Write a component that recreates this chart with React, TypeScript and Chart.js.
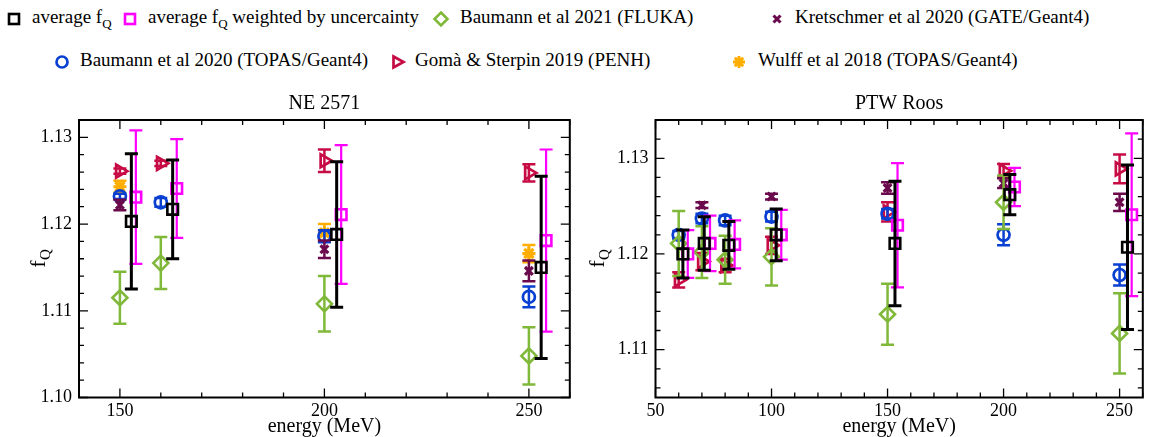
import React, { useEffect, useRef } from "react";
import { Chart, registerables } from "chart.js";

Chart.register(...registerables);

const SERIF = "'Liberation Serif', 'Times New Roman', Times, serif";

// ---------------- NE 2571 (left panel) ----------------
const neAvgE = [152.8, 162.9, 203.0, 253.0];
const neAvgF = [1.1203, 1.1217, 1.1188, 1.115];
const neAvgErr = [0.0078, 0.0057, 0.0084, 0.0105];

const neWAvgE = [153.9, 163.9, 204.1, 254.2];
const neWAvgF = [1.1231, 1.1241, 1.1211, 1.1181];
const neWAvgErr = [0.0077, 0.0057, 0.008, 0.0105];

const neFlukaE = [150, 160, 200, 250];
const neFlukaF = [1.1115, 1.1155, 1.1108, 1.1048];
const neFlukaErr = [0.003, 0.003, 0.0032, 0.0033];

const neGateE = [150, 200, 250];
const neGateF = [1.1222, 1.1171, 1.1146];
const neGateErr = [0.0006, 0.001, 0.0012];

const neTopasE = [150, 160, 200, 250];
const neTopasF = [1.1232, 1.1225, 1.1186, 1.1116];
const neTopasErr = [0.0003, 0.0005, 0.0007, 0.0012];

const nePenhE = [150, 160, 200, 250];
const nePenhF = [1.1261, 1.127, 1.1273, 1.1259];
const nePenhErr = [0.0003, 0.0003, 0.0013, 0.001];

const neWulffE = [150, 200, 250];
const neWulffF = [1.1243, 1.119, 1.1166];
const neWulffErr = [0.0007, 0.001, 0.001];

// ---------------- PTW Roos (right panel) ----------------
const roAvgE = [61.8, 71.0, 81.6, 102.0, 153.2, 202.7, 253.4];
const roAvgF = [1.12, 1.1211, 1.1209, 1.122, 1.1211, 1.1262, 1.1207];
const roAvgErr = [0.0025, 0.0028, 0.0025, 0.0027, 0.0065, 0.0021, 0.0086];

const roWAvgE = [63.9, 73.5, 84.1, 104.2, 154.3, 204.7, 255.2];
const roWAvgF = [1.12, 1.1211, 1.121, 1.122, 1.123, 1.127, 1.1241];
const roWAvgErr = [0.0025, 0.0029, 0.0025, 0.0026, 0.0065, 0.002, 0.0085];

const roFlukaE = [60, 70, 80, 100, 150, 200, 250];
const roFlukaF = [1.1211, 1.1202, 1.1194, 1.1197, 1.1137, 1.1254, 1.1117];
const roFlukaErr = [0.0034, 0.0027, 0.0025, 0.003, 0.0032, 0.0028, 0.0042];

const roGateE = [70, 100, 150, 200, 250];
const roGateF = [1.1251, 1.126, 1.1269, 1.1274, 1.1254];
const roGateErr = [0.0003, 0.0003, 0.0006, 0.0005, 0.0009];

const roTopasE = [60, 70, 80, 100, 150, 200, 250];
const roTopasF = [1.122, 1.1237, 1.1235, 1.1239, 1.1242, 1.122, 1.1178];
const roTopasErr = [0.0004, 0.0005, 0.0005, 0.0005, 0.0005, 0.0011, 0.0011];

const roPenhE = [60, 70, 80, 100, 150, 200, 250];
const roPenhF = [1.1173, 1.1192, 1.1188, 1.1209, 1.1244, 1.1287, 1.1289];
const roPenhErr = [0.0008, 0.0009, 0.0007, 0.0009, 0.001, 0.0007, 0.0015];

// ---------------- axes ----------------
const neXTicks = [150, 200, 250];
const neYTicks = [1.1, 1.11, 1.12, 1.13];
const roXTicks = [50, 100, 150, 200, 250];
const roYTicks = [1.11, 1.12, 1.13];

const panelTitles = ["NE 2571", "PTW Roos"];
const xAxisTitle = "energy (MeV)";

const legendLabels = [
  "average f",
  "average f",
  "Baumann et al 2021 (FLUKA)",
  "Kretschmer et al 2020 (GATE/Geant4)",
  "Baumann et al 2020 (TOPAS/Geant4)",
  "Gomà & Sterpin 2019 (PENH)",
  "Wulff et al 2018 (TOPAS/Geant4)",
];

const COLORS = {
  avg: "#000000",
  wavg: "#ff00ff",
  fluka: "#80b83a",
  gate: "#6a0a4c",
  topas: "#0a40d2",
  penh: "#c70c45",
  wulff: "#ffae00",
};

// ---------------- plugins ----------------
const errorBarPlugin = {
  id: "errorBars",
  beforeDatasetDraw(chart: any, args: any) {
    const ds = chart.data.datasets[args.index];
    const errs: number[] | undefined = ds.errors;
    if (!errs) return;
    const xs = chart.scales.x;
    const ys = chart.scales.y;
    const ctx = chart.ctx;
    const cap = ds.capHalf ?? 6;
    ctx.save();
    ctx.strokeStyle = ds.borderColor;
    ctx.lineWidth = ds.errorWidth ?? 2;
    ds.data.forEach((p: any, i: number) => {
      const px = xs.getPixelForValue(p.x);
      const top = ys.getPixelForValue(p.y + errs[i]);
      const bot = ys.getPixelForValue(p.y - errs[i]);
      ctx.beginPath();
      ctx.moveTo(px, top);
      ctx.lineTo(px, bot);
      ctx.moveTo(px - cap, top);
      ctx.lineTo(px + cap, top);
      ctx.moveTo(px - cap, bot);
      ctx.lineTo(px + cap, bot);
      ctx.stroke();
    });
    ctx.restore();
  },
};

const frameTicksPlugin = {
  id: "frameTicks",
  afterDatasetsDraw(chart: any, _args: any, opts: any) {
    const { ctx, chartArea: a } = chart;
    const xs = chart.scales.x;
    const ys = chart.scales.y;
    ctx.save();
    ctx.strokeStyle = "#000";
    ctx.lineWidth = 1.3;
    ctx.beginPath();
    const xMajor: number[] = opts.xMajor;
    const yMajor: number[] = opts.yMajor;
    const xStart = Math.ceil(xs.min / opts.xStep - 1e-6);
    const xEnd = Math.floor(xs.max / opts.xStep + 1e-6);
    for (let k = xStart; k <= xEnd; k++) {
      const v = k * opts.xStep;
      const major = xMajor.some((m) => Math.abs(m - v) < 1e-6);
      const len = major ? 9 : 5;
      const px = xs.getPixelForValue(v);
      ctx.moveTo(px, a.bottom);
      ctx.lineTo(px, a.bottom - len);
      ctx.moveTo(px, a.top);
      ctx.lineTo(px, a.top + len);
    }
    const yStart = Math.ceil(ys.min / opts.yStep - 1e-6);
    const yEnd = Math.floor(ys.max / opts.yStep + 1e-6);
    for (let k = yStart; k <= yEnd; k++) {
      const v = k * opts.yStep;
      const major = yMajor.some((m) => Math.abs(m - v) < 1e-7);
      const len = major ? 9 : 5;
      const py = ys.getPixelForValue(v);
      ctx.moveTo(a.left, py);
      ctx.lineTo(a.left + len, py);
      ctx.moveTo(a.right, py);
      ctx.lineTo(a.right - len, py);
    }
    ctx.stroke();
    ctx.lineWidth = 2;
    ctx.strokeRect(a.left, a.top, a.right - a.left, a.bottom - a.top);
    ctx.restore();
  },
};

const textPlugin = {
  id: "panelText",
  afterDraw(chart: any, _args: any, opts: any) {
    const { ctx, chartArea: a } = chart;
    ctx.save();
    ctx.fillStyle = "#000";
    // panel title
    ctx.font = `20px ${SERIF}`;
    ctx.textAlign = "center";
    ctx.textBaseline = "middle";
    ctx.fillText(opts.title, (a.left + a.right) / 2, a.top - 16);
    // y axis title f_Q
    const cy = (a.top + a.bottom) / 2;
    ctx.translate(opts.yTitleX, cy);
    ctx.rotate(-Math.PI / 2);
    ctx.textAlign = "left";
    ctx.textBaseline = "alphabetic";
    ctx.font = `22px ${SERIF}`;
    const wf = ctx.measureText("f").width;
    ctx.font = `15px ${SERIF}`;
    const wq = ctx.measureText("Q").width;
    const start = -(wf + wq) / 2;
    ctx.font = `22px ${SERIF}`;
    ctx.fillText("f", start, 6);
    ctx.font = `15px ${SERIF}`;
    ctx.fillText("Q", start + wf + 0.5, 11);
    ctx.restore();
  },
};

function series(
  label: string,
  xs: number[],
  ys: number[],
  errs: number[],
  color: string,
  style: any
) {
  return {
    label,
    data: xs.map((x, i) => ({ x, y: ys[i] })),
    errors: errs,
    borderColor: color,
    backgroundColor: style.fill ? color : "rgba(0,0,0,0)",
    pointBackgroundColor: style.fill ? color : "rgba(0,0,0,0)",
    pointBorderColor: color,
    pointStyle: style.shape,
    pointRadius: style.r,
    pointHoverRadius: style.r,
    pointBorderWidth: style.bw,
    pointRotation: style.rot ?? 0,
    errorWidth: style.ew,
    capHalf: 6.5,
    showLine: false,
  };
}

const ST = {
  avg: { shape: "rect", r: 7.5, bw: 2.6, ew: 3 },
  wavg: { shape: "rect", r: 7.5, bw: 2.6, ew: 2.2 },
  fluka: { shape: "rectRot", r: 7.5, bw: 2.6, ew: 2.5 },
  gate: { shape: "crossRot", r: 5.5, bw: 3.2, ew: 2.5 },
  topas: { shape: "circle", r: 6, bw: 2.7, ew: 2.5 },
  penh: { shape: "triangle", r: 7.5, bw: 2.7, ew: 2.5, rot: 90 },
  wulff: { shape: "star", r: 6.5, bw: 3.2, ew: 2.5, fill: true },
};

function makeConfig(p: any) {
  return {
    type: "scatter",
    data: { datasets: p.datasets },
    options: {
      animation: false,
      responsive: false,
      events: [],
      layout: { padding: { left: 0, right: p.padRight, top: 40, bottom: 0 } },
      plugins: {
        legend: { display: false },
        tooltip: { enabled: false },
        title: { display: false },
        frameTicks: {
          xMajor: p.xTicks,
          yMajor: p.yTicks,
          xStep: 10,
          yStep: 0.002,
        },
        panelText: { title: p.title, yTitleX: p.yTitleX },
      },
      scales: {
        x: {
          type: "linear",
          min: p.xMin,
          max: p.xMax,
          afterBuildTicks: (s: any) => {
            s.ticks = p.xTicks.map((v: number) => ({ value: v }));
          },
          afterFit: (s: any) => {
            s.height = 39.5;
          },
          grid: { display: false, drawTicks: false },
          border: { display: false },
          ticks: {
            font: { family: SERIF, size: 18 },
            color: "#000",
            padding: 3,
            maxRotation: 0,
            autoSkip: false,
            callback: (v: any) => String(v),
          },
          title: {
            display: true,
            text: xAxisTitle,
            color: "#000",
            font: { family: SERIF, size: 20, lineHeight: 1 },
            padding: { top: 0, bottom: 0 },
          },
        },
        y: {
          type: "linear",
          min: p.yMin,
          max: p.yMax,
          afterBuildTicks: (s: any) => {
            s.ticks = p.yTicks.map((v: number) => ({ value: v }));
          },
          afterFit: (s: any) => {
            s.width = p.yWidth;
          },
          grid: { display: false, drawTicks: false },
          border: { display: false },
          ticks: {
            font: { family: SERIF, size: 18 },
            color: "#000",
            padding: 7,
            autoSkip: false,
            callback: (v: any) => Number(v).toFixed(2),
          },
        },
      },
    },
    plugins: [errorBarPlugin, frameTicksPlugin, textPlugin],
  } as any;
}

function buildNE() {
  return [
    series(legendLabels[0], neAvgE, neAvgF, neAvgErr, COLORS.avg, ST.avg),
    series(legendLabels[1], neWAvgE, neWAvgF, neWAvgErr, COLORS.wavg, ST.wavg),
    series(legendLabels[2], neFlukaE, neFlukaF, neFlukaErr, COLORS.fluka, ST.fluka),
    series(legendLabels[3], neGateE, neGateF, neGateErr, COLORS.gate, ST.gate),
    series(legendLabels[4], neTopasE, neTopasF, neTopasErr, COLORS.topas, ST.topas),
    series(legendLabels[5], nePenhE, nePenhF, nePenhErr, COLORS.penh, ST.penh),
    series(legendLabels[6], neWulffE, neWulffF, neWulffErr, COLORS.wulff, ST.wulff),
  ];
}

function buildRoos() {
  return [
    series(legendLabels[0], roAvgE, roAvgF, roAvgErr, COLORS.avg, ST.avg),
    series(legendLabels[1], roWAvgE, roWAvgF, roWAvgErr, COLORS.wavg, ST.wavg),
    series(legendLabels[2], roFlukaE, roFlukaF, roFlukaErr, COLORS.fluka, ST.fluka),
    series(legendLabels[3], roGateE, roGateF, roGateErr, COLORS.gate, ST.gate),
    series(legendLabels[4], roTopasE, roTopasF, roTopasErr, COLORS.topas, ST.topas),
    series(legendLabels[5], roPenhE, roPenhF, roPenhErr, COLORS.penh, ST.penh),
  ];
}

function Marker({ kind }: { kind: string }) {
  const c = (COLORS as any)[kind];
  let el: any = null;
  if (kind === "avg" || kind === "wavg")
    el = <rect x={4} y={4} width={10} height={10} fill="none" stroke={c} strokeWidth={2.6} />;
  else if (kind === "fluka")
    el = <polygon points="9,2.5 15.5,9 9,15.5 2.5,9" fill="none" stroke={c} strokeWidth={2.6} />;
  else if (kind === "gate")
    el = <path d="M5.5,5.5 L12.5,12.5 M12.5,5.5 L5.5,12.5" stroke={c} strokeWidth={3} />;
  else if (kind === "topas")
    el = <circle cx={9} cy={9} r={5.5} fill="none" stroke={c} strokeWidth={2.7} />;
  else if (kind === "penh")
    el = <polygon points="4.5,3.5 14.5,9 4.5,14.5" fill="none" stroke={c} strokeWidth={2.7} />;
  else if (kind === "wulff")
    el = (
      <path
        d="M9,3 L9,15 M3,9 L15,9 M4.8,4.8 L13.2,13.2 M13.2,4.8 L4.8,13.2"
        stroke={c}
        strokeWidth={3}
      />
    );
  return (
    <svg width={18} height={18} style={{ display: "block" }}>
      {el}
    </svg>
  );
}

const legendLayout = [
  { kind: "avg", row: 0, mx: 14, tx: 32 },
  { kind: "wavg", row: 0, mx: 130, tx: 148 },
  { kind: "fluka", row: 0, mx: 441, tx: 460 },
  { kind: "gate", row: 0, mx: 777, tx: 795 },
  { kind: "topas", row: 1, mx: 62, tx: 80 },
  { kind: "penh", row: 1, mx: 398, tx: 415 },
  { kind: "wulff", row: 1, mx: 739, tx: 758 },
];
const rowY = [19, 62];

export default function App() {
  const leftRef = useRef<HTMLCanvasElement>(null);
  const rightRef = useRef<HTMLCanvasElement>(null);

  useEffect(() => {
    document.body.style.margin = "0";
    const c1 = new Chart(
      leftRef.current as HTMLCanvasElement,
      makeConfig({
        datasets: buildNE(),
        title: panelTitles[0],
        xMin: 140,
        xMax: 260,
        yMin: 1.1,
        yMax: 1.132,
        xTicks: neXTicks,
        yTicks: neYTicks,
        yWidth: 79,
        padRight: 5,
        yTitleX: 39,
      })
    );
    const c2 = new Chart(
      rightRef.current as HTMLCanvasElement,
      makeConfig({
        datasets: buildRoos(),
        title: panelTitles[1],
        xMin: 50,
        xMax: 260,
        yMin: 1.105,
        yMax: 1.134,
        xTicks: roXTicks,
        yTicks: roYTicks,
        yWidth: 75.5,
        padRight: 2,
        yTitleX: 18,
      })
    );
    return () => {
      c1.destroy();
      c2.destroy();
    };
  }, []);

  return (
    <div
      style={{
        position: "relative",
        width: 1153,
        height: 437,
        overflow: "hidden",
        background: "#fff",
        fontFamily: SERIF,
        color: "#000",
      }}
    >
      {legendLayout.map((it, i) => (
        <React.Fragment key={it.kind}>
          <div style={{ position: "absolute", left: it.mx - 9, top: rowY[it.row] - 9 }}>
            <Marker kind={it.kind} />
          </div>
          <div
            style={{
              position: "absolute",
              left: it.tx,
              top: rowY[it.row] - 13,
              fontSize: 19,
              lineHeight: "22px",
              whiteSpace: "nowrap",
            }}
          >
            {i === 0 ? (
              <>
                {legendLabels[0]}
                <sub style={{ fontSize: 13, verticalAlign: "-5px" }}>Q</sub>
              </>
            ) : i === 1 ? (
              <>
                {legendLabels[1]}
                <sub style={{ fontSize: 13, verticalAlign: "-5px" }}>Q</sub> weighted by uncercainty
              </>
            ) : (
              legendLabels[i]
            )}
          </div>
        </React.Fragment>
      ))}
      <canvas
        ref={leftRef}
        width={580}
        height={357}
        style={{ position: "absolute", left: 0, top: 80, width: 580, height: 357 }}
      />
      <canvas
        ref={rightRef}
        width={573}
        height={357}
        style={{ position: "absolute", left: 580, top: 80, width: 573, height: 357 }}
      />
    </div>
  );
}
